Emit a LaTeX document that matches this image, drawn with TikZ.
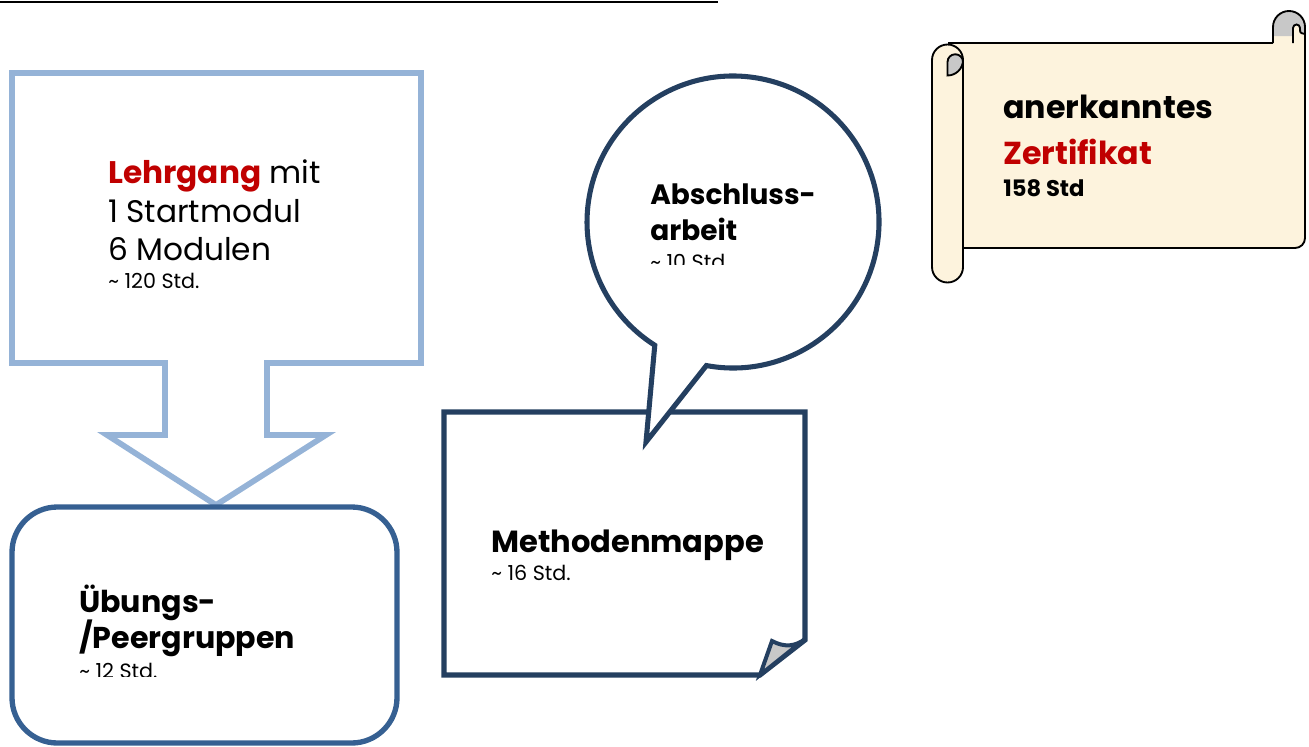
\documentclass[tikz,border=0pt]{standalone}
\usepackage{fontspec}
\setmainfont{Poppins}
\definecolor{arrowblue}{RGB}{149,179,215}
\definecolor{boxblue}{RGB}{54,96,146}
\definecolor{navy}{RGB}{36,63,96}
\definecolor{lgred}{RGB}{192,0,0}
\definecolor{parchment}{RGB}{253,243,221}
\definecolor{curlgrey}{RGB}{200,200,200}

\begin{document}
\begin{tikzpicture}[x=0.75pt, y=-0.75pt,
    arrowline/.style={draw=arrowblue, line width=4.3pt, line join=miter},
    boxline/.style={draw=boxblue, line width=4pt},
    navyline/.style={draw=navy, line width=3.8pt, line join=miter},
    scrollline/.style={draw=black, line width=1.4pt},
    bigtext/.style={anchor=base west, inner sep=0pt, font=\fontsize{23.4}{27}\selectfont},
    headtext/.style={anchor=base west, inner sep=0pt, font=\fontsize{#1}{26}\selectfont\bfseries},
    headtext/.default=22,
    stdtext/.style={anchor=base west, inner sep=0pt, font=\fontsize{15.5}{18}\selectfont}]
    \useasboundingbox (0,0) rectangle (1309,746);

    \draw[line width=1.4pt] (0,2) -- (718,2);

    % Lehrgang arrow
    \draw[arrowline] (12,73) -- (421,73) -- (421,363) -- (267,363) -- (267,435) -- (326,435)
        -- (216,505) -- (107,435) -- (165,435) -- (165,363) -- (12,363) -- cycle;
    \node[bigtext] (lg1) at (108,183) {\textbf{\textcolor{lgred}{Lehrgang}} mit};
    \node[bigtext] (lg2) at (108,222) {1 Startmodul};
    \node[bigtext] (lg3) at (108,260) {6 Modulen};
    \node[stdtext] (lg4) at (108,288) {\textasciitilde{} 120 Std.};

    % Uebungsgruppen
    \draw[boxline, fill=white, rounded corners=34pt] (12,507) rectangle (397,743);
    \node[headtext=22.6] (ub1) at (79,612) {Übungs-};
    \node[headtext=22.6] (ub2) at (79,648) {/Peergruppen};
    \begin{scope}
        \clip (60,600) rectangle (330,676);
        \node[stdtext] (ub3) at (79,678) {\textasciitilde{} 12 Std.};
    \end{scope}

    % Methodenmappe
    \draw[navyline, fill=white] (444,412) -- (805,412) -- (805,640) -- (760,675) -- (444,675) -- cycle;
    \draw[navyline, line width=3pt, fill=curlgrey] (760,675) -- (772,641)
        .. controls (785,648) and (796,646) .. (805,639) -- cycle;
    \node[headtext=22.9] (mm1) at (491,552) {Methodenmappe};
    \node[stdtext] (mm2) at (491,580) {\textasciitilde{} 16 Std.};

    % Abschlussarbeit bubble
    \draw[navyline, fill=white] (646,442) -- ([shift={(733,222)}]100.5:146)
        arc[start angle=100.5, end angle=-237.6, radius=146] -- cycle;
    \node[headtext=21] (ab1) at (650,204) {Abschluss-};
    \node[headtext=21] (ab2) at (650,240) {arbeit};
    \begin{scope}
        \clip (620,100) rectangle (860,264);
        \node[stdtext] (ab3) at (650,269) {\textasciitilde{} 10 Std.};
    \end{scope}

    % Zertifikat scroll
    \fill[parchment] (948,43) -- (1273,43) -- (1273,27) arc[start angle=180, end angle=360, radius=16]
        -- (1305,238) arc[start angle=0, end angle=90, radius=10] -- (963,248) -- cycle;
    \fill[curlgrey] (1274,36) -- (1274,27) arc[start angle=180, end angle=360, radius=15.5]
        -- (1305,34) .. controls (1300,33) .. (1300,28) arc[start angle=0, end angle=-180, radius=3.5]
        -- (1293,36) -- cycle;
    \draw[scrollline] (948,43) -- (1273,43);
    \draw[scrollline] (1273,43) -- (1273,27) arc[start angle=180, end angle=360, radius=16]
        -- (1305,238) arc[start angle=0, end angle=90, radius=10] -- (963,248);
    \draw[scrollline] (1293,43) -- (1293,28) arc[start angle=180, end angle=360, radius=3.5]
        .. controls (1300,33) .. (1305,34);
    \draw[scrollline, fill=parchment] (963,60) -- (963,267) arc[start angle=0, end angle=180, radius=15.5]
        -- (932,60) arc[start angle=180, end angle=360, radius=15.5] -- cycle;
    \fill[curlgrey] (947.5,75.5) -- (947.5,62) arc[start angle=180, end angle=360, radius=7.75]
        -- (963,60) arc[start angle=0, end angle=90, radius=15.5] -- cycle;
    \draw[scrollline] (963,60) arc[start angle=0, end angle=90, radius=15.5] -- (947.5,62)
        arc[start angle=180, end angle=360, radius=7.75];
    \node[headtext=23.8] (zt1) at (1003,118) {anerkanntes};
    \node[headtext=23.8, text=lgred] (zt2) at (1003,164) {Zertifikat};
    \node[stdtext, font=\fontsize{17}{19}\selectfont\bfseries] (zt3) at (1003,196) {158 Std};
\end{tikzpicture}
\end{document}
